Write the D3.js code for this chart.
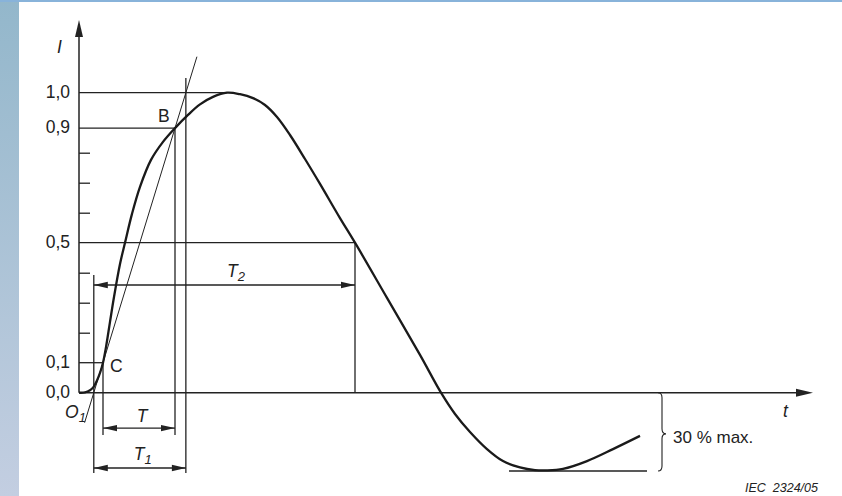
<!DOCTYPE html>
<html lang="en">
<head>
    <meta charset="UTF-8">
    <script type="text/javascript" src="https://cdn.jsdelivr.net/npm/d3@7/dist/d3.min.js"></script>
    <title>Impulse current wave shape</title>
    <style>
        body { margin: 0; background: #fff; }
        text { font-family: "Liberation Sans", Arial, sans-serif; fill: #222; }
    </style>
</head>
<body>
<script>
    // curve (t in arbitrary time units, I relative to peak)
    var curveT = [0, 0.3, 0.55, 0.7, 0.9, 1.05, 1.2, 1.35, 1.55, 1.75, 2.05, 2.3, 2.65, 3.05, 3.6, 4.2, 4.8,
        5.45, 6.05, 6.7, 7.4, 8.05, 8.7, 9.3, 9.9, 10.55, 11.3, 12.05, 13.05, 13.8, 15.4, 17.05, 18.1,
        18.8, 19.55, 20.4, 21.2, 22.05, 22.8, 23.4, 24.2, 25.4, 26.7, 28.05];
    var curveI = [0, 0.001, 0.008, 0.017, 0.041, 0.066, 0.1, 0.152, 0.236, 0.319, 0.429, 0.5, 0.596, 0.686, 0.776, 0.836, 0.882,
        0.926, 0.961, 0.986, 1.0, 0.995, 0.982, 0.959, 0.919, 0.859, 0.779, 0.696, 0.582, 0.5, 0.316, 0.126, 0,
        -0.071, -0.131, -0.188, -0.228, -0.249, -0.258, -0.259, -0.254, -0.228, -0.188, -0.144];

    var yTickValues = [0, 0.1, 0.5, 0.882, 1.0];
    var yTickLabels = ["0,0", "0,1", "0,5", "0,9", "1,0"];
    var yMinorTicks = [0.2, 0.3, 0.4, 0.6, 0.7, 0.8];

    // characteristic points
    var pointC = [1.2, 0.1];
    var pointB = [4.8, 0.882];
    var peakPoint = [7.4, 1.0];
    var halfPoint = [13.8, 0.5];
    var undershoot = -0.261;

    var svg = d3.select("body").append("svg")
        .attr("width", 842)
        .attr("height", 496);

    // page decoration
    var grad = svg.append("defs").append("linearGradient")
        .attr("id", "side").attr("x1", 0).attr("y1", 0).attr("x2", 0).attr("y2", 1);
    grad.append("stop").attr("offset", "0%").attr("stop-color", "#93b7cb");
    grad.append("stop").attr("offset", "100%").attr("stop-color", "#c3cee1");
    svg.append("rect").attr("x", 0).attr("y", 0).attr("width", 19).attr("height", 496).attr("fill", "url(#side)");
    svg.append("rect").attr("x", 0).attr("y", 0).attr("width", 842).attr("height", 2).attr("fill", "#88b3da");

    var x = d3.scaleLinear().domain([0, 36.7]).range([79, 813]);
    var y = d3.scaleLinear().domain([0, 1]).range([392.7, 92.7]);

    var ink = "#222";

    function seg(t1, i1, t2, i2, w) {
        svg.append("line")
            .attr("x1", x(t1)).attr("y1", y(i1))
            .attr("x2", x(t2)).attr("y2", y(i2))
            .attr("stroke", ink).attr("stroke-width", w || 1.3);
    }

    // filled arrow head, tip at (px,py), dir = "l","r","u"
    function head(px, py, dir, len, half) {
        var p;
        if (dir == "r") p = [[px, py], [px - len, py - half], [px - len, py + half]];
        if (dir == "l") p = [[px, py], [px + len, py - half], [px + len, py + half]];
        if (dir == "u") p = [[px, py], [px - half, py + len], [px + half, py + len]];
        svg.append("path").attr("d", "M" + p.join("L") + "Z").attr("fill", ink);
    }

    function dimArrow(t1, t2, level) {
        seg(t1, level, t2, level);
        head(x(t1), y(level), "l", 14, 3.2);
        head(x(t2), y(level), "r", 14, 3.2);
    }

    // axes
    var yTop = 1.242;
    seg(0, 0, 0, yTop - 0.055, 1.5);
    head(x(0), y(yTop), "u", 17, 4);
    seg(0, 0, 36.7 - 0.8, 0, 1.5);
    head(x(36.7), y(0), "r", 17, 4);

    svg.append("g")
        .attr("transform", "translate(" + x(0) + ",0)")
        .call(d3.axisLeft(y).tickValues(yTickValues)
            .tickFormat(function(d, i){ return yTickLabels[i]; })
            .tickSize(0).tickPadding(9))
        .call(function(g){ g.select(".domain").remove(); })
        .selectAll("text")
        .attr("font-size", 17.5).attr("dy", "0.25em")
        .attr("font-family", "Liberation Sans, Arial, sans-serif").attr("fill", ink);

    svg.append("g")
        .attr("transform", "translate(" + x(0) + ",0)")
        .call(d3.axisRight(y).tickValues(yMinorTicks).tickSize(11).tickFormat(""))
        .call(function(g){ g.select(".domain").remove(); })
        .selectAll("line").attr("stroke", ink).attr("stroke-width", 1.3);

    // tangent through C and B
    var slope = (pointB[0] - pointC[0]) / (pointB[1] - pointC[1]);
    function tangentT(i) { return pointC[0] + (i - pointC[1]) * slope; }
    var o1 = tangentT(0);
    var t1End = tangentT(1.0);
    seg(tangentT(-0.1), -0.1, tangentT(1.12), 1.12, 1);

    // level lines
    seg(0, 1.0, peakPoint[0], 1.0);
    seg(0, pointB[1], pointB[0], pointB[1]);
    seg(0, 0.5, halfPoint[0], 0.5);
    seg(0, pointC[1], pointC[0], pointC[1]);

    // verticals
    seg(o1, 0.392, o1, -0.268);
    seg(pointC[0], pointC[1], pointC[0], -0.141);
    seg(pointB[0], pointB[1], pointB[0], -0.141);
    seg(t1End, 1.049, t1End, -0.268);
    seg(halfPoint[0], 0.5, halfPoint[0], 0);

    // dimension arrows
    dimArrow(o1, halfPoint[0], 0.359);
    dimArrow(pointC[0], pointB[0], -0.118);
    dimArrow(o1, t1End, -0.251);

    // undershoot line and brace
    seg(21.5, undershoot, 28.4, undershoot);
    var bx = x(28.95), bTop = y(0), bBot = y(undershoot), bMid = (bTop + bBot) / 2 + 2;
    svg.append("path")
        .attr("d", "M" + bx + "," + bTop + " q4,0 4,5 L" + (bx + 4) + "," + (bMid - 5) +
            " q0,5 4,5 q-4,0 -4,5 L" + (bx + 4) + "," + (bBot - 5) + " q0,5 -4,5")
        .attr("fill", "none").attr("stroke", ink).attr("stroke-width", 1.1);

    // the wave
    var line = d3.line()
        .x(function(d){ return x(d[0]); })
        .y(function(d){ return y(d[1]); })
        .curve(d3.curveCatmullRom.alpha(0.5));
    svg.append("path")
        .datum(d3.zip(curveT, curveI))
        .attr("d", line)
        .attr("fill", "none").attr("stroke", "#1a1a1a").attr("stroke-width", 2.3);

    // labels
    function label(txt, px, py, size, italic, anchor) {
        return svg.append("text").attr("x", px).attr("y", py)
            .attr("font-size", size)
            .attr("font-style", italic ? "italic" : "normal")
            .attr("text-anchor", anchor || "start")
            .style("white-space", "pre")
            .text(txt);
    }
    function subLabel(main, sub, px, py) {
        var t = label("", px, py, 17.5, true, "middle");
        t.append("tspan").text(main);
        t.append("tspan").attr("font-size", 13).attr("dy", 4).text(sub);
    }

    label("I", 57, 53, 17.5, true);
    label("t", 783, 417, 17.5, true);
    label("B", x(pointB[0]) - 17, y(pointB[1]) - 6, 17.5, false);
    label("C", x(pointC[0]) + 7, y(pointC[1]) + 9, 17.5, false);
    var o = label("", 65, 418, 17.5, true);
    o.append("tspan").text("O");
    o.append("tspan").attr("font-size", 13).attr("dy", 4).text("1");
    label("T", (x(pointC[0]) + x(pointB[0])) / 2 + 3, y(-0.118) - 6, 17.5, true, "middle");
    subLabel("T", "1", (x(o1) + x(t1End)) / 2 + 3, y(-0.251) - 8);
    subLabel("T", "2", 236, 277);
    label("30 % max.", 673, 443, 17, false);
    label("IEC  2324/05", 745, 492, 12.5, true);
</script>
</body>
</html>
